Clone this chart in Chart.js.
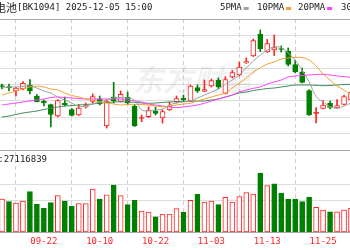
<!DOCTYPE html>
<html><head><meta charset="utf-8">
<script src="https://cdn.jsdelivr.net/npm/chart.js@4.4.1/dist/chart.umd.min.js"></script>
<style>html,body{margin:0;padding:0;background:#fff;overflow:hidden}canvas{display:block}</style>
</head><body>
<canvas id="c" width="350" height="250"></canvas>
<script>
// ---------- data ----------
const dates = ['09-12','09-15','09-16','09-17','09-18','09-19','09-22','09-23','09-24','09-25','09-26','09-29','09-30','10-09','10-10','10-13','10-14','10-15','10-16','10-17','10-20','10-21','10-22','10-23','10-24','10-27','10-28','10-29','10-30','10-31','11-03','11-04','11-05','11-06','11-07','11-10','11-11','11-12','11-13','11-14','11-17','11-18','11-19','11-20','11-21','11-24','11-25','11-26','11-27','11-28','12-01'];
const open  = [1599,1597.5,1584,1590,1602,1569,1554,1543.5,1509,1548,1528.5,1512,1536,1552.5,1560,1479,1566,1552.5,1566,1539,1501.5,1506.9,1524,1503,1527,1551.9,1562.1,1554,1594.5,1583.1,1599,1617,1576.5,1626,1632,1668,1689,1755,1701,1707,1711.5,1704,1663.5,1641,1584.9,1517.1,1532.1,1548,1533,1543.5,1557];
const high  = [1605,1605,1595.1,1611.9,1618.5,1573.5,1557,1545,1558.5,1566,1531.5,1543.5,1548,1575,1569,1557,1610.1,1584,1581,1543.5,1512,1536.9,1536,1527,1551,1569,1572,1602,1602,1617,1620,1623,1626.9,1645.5,1671,1683,1740,1767,1738.5,1752,1719,1713,1677,1653,1588.5,1534.5,1555.5,1554,1558.5,1572,1587];
const low   = [1590,1584,1569,1587,1575,1551,1539,1476,1506,1539,1509,1510.5,1533,1548,1542,1473,1548,1551,1545,1477.5,1491.9,1503.9,1512,1488,1525.5,1548,1551.9,1551.9,1579.5,1582.5,1596,1591.5,1575,1623,1629,1666.5,1687.5,1701.9,1699.5,1690.5,1701,1659,1638,1608,1510.5,1488,1530,1530,1531.5,1542,1554];
const close = [1597.5,1593,1593,1607.1,1584,1551.9,1548,1513.5,1555.5,1542,1510.5,1533,1540.5,1567.5,1545,1551.9,1554,1574.1,1548,1479,1503,1527,1516.5,1522.5,1539,1561.5,1557,1599,1584,1587.9,1615.5,1596,1618.5,1639.5,1656,1672.5,1735.5,1710,1726.5,1713.9,1708.5,1663.5,1641.9,1609.5,1512,1518.9,1542,1534.5,1540.5,1567.5,1581];
// volume in millions
const volume = [21.06,19.34,18.51,19.78,25.72,17.68,15.12,18.70,23.17,19.78,16.59,18.06,18.06,27.44,21.06,23.80,29.99,23.17,17.42,20.23,13.40,12.76,9.76,11.49,11.49,14.87,12.76,20.23,24.06,19.14,19.78,17.42,22.14,19.14,22.53,25.08,24.25,37.65,29.55,30.82,24.89,21.06,21.06,19.34,22.34,15.76,14.04,12.95,12.95,14.04,15.12];
const volUp = [1,0,1,1,0,0,0,0,1,0,0,1,1,1,0,1,0,1,0,0,1,1,0,1,1,1,0,1,0,1,1,0,1,1,1,1,1,0,1,0,0,0,0,0,0,1,1,0,1,1,1];
const ma5  = [1593,1596,1596,1597.5,1599,1593,1584,1578,1566,1557,1548,1537.5,1539,1545,1551.9,1557,1563,1564.5,1563,1557,1527,1524,1527,1530,1542,1548,1551,1554,1563,1572,1581,1590,1604.1,1617,1632,1653,1674,1692,1707,1716.9,1713.9,1698,1677,1647,1611.9,1566.9,1551,1536.9,1532.1,1539,1548];
const ma10 = [1572,1578,1584,1590,1596,1599,1596,1590,1587,1578,1570.5,1566,1560,1557,1551,1548,1545,1542,1543.5,1544.1,1543.5,1542,1539,1536.9,1539,1542,1545,1547.1,1554,1560,1566,1572,1577.1,1593,1608,1623,1641,1653,1665,1671,1680,1683,1685.1,1684.5,1677,1659,1635,1617,1599,1587,1572];
const ma20 = [1542,1545,1548,1551,1554,1557,1560,1564.5,1566,1564.5,1563,1561.5,1560,1560,1560,1560,1560,1560,1557,1554,1551,1545,1542,1539,1536,1533.9,1536,1539,1542,1547.1,1554,1560,1566,1572,1581,1587,1592.1,1596,1605,1611,1617,1626,1629,1630.5,1632,1633.5,1634.1,1632,1629,1626.9,1625.1];
const ma30 = [1506,1509,1513.5,1518,1521,1524,1528.5,1533,1536,1539,1540.5,1542,1543.5,1545,1548,1549.5,1551,1551.9,1551,1550.1,1548,1547.1,1548,1549.5,1551,1551.9,1552.5,1553.1,1554,1554,1557,1560,1566,1572,1578,1581,1585.5,1588.5,1591.5,1593,1596,1599,1602,1602,1602,1601.1,1599.9,1600.5,1602,1603.5,1604.1];
const tickDates = ['09-22','10-10','10-22','11-03','11-13','11-25'];
const titleCn = '电池';
const titleCode = '[BK1094] 2025-12-05 15:00';
const maNames = ['5PMA','10PMA','20PMA','30PMA'];
const volText = 'VOL:27116839';

// ---------- styles ----------
const RED = '#ff2222', GREEN = '#008000';
const MA_COLORS = ['#a0a0a0','#f5a030','#ff40ff','#3c8c5c'];
const MONO = '"DejaVu Sans Mono", monospace';
const CJK = '"Noto Sans CJK SC", sans-serif';

const up = close.map((c,i)=>c>=open[i]);
const bodyFill = up.map((u,i)=> u ? (Math.abs(close[i]-open[i])<2 ? RED : '#ffffff') : GREEN);
const pts = arr => arr.map((v,i)=>({x:i,y:v}));
const tickIdx = tickDates.map(d=>dates.indexOf(d));

const textPlugin = {
  id:'texts',
  beforeDatasetsDraw(chart){
    const ctx = chart.ctx; ctx.save();
    ctx.fillStyle = 'rgba(0,0,0,0.06)';
    ctx.font = 'bold italic 30px ' + CJK;
    ctx.textBaseline = 'middle';
    ctx.fillText('东方财富', 133, 80);
    ctx.restore();
  },
  afterDraw(chart){
    const ctx = chart.ctx; ctx.save();
    ctx.textBaseline = 'middle';
    ctx.fillStyle = '#222';
    ctx.font = '11px ' + CJK;
    ctx.fillText(titleCn, -5, 8);
    ctx.font = '9px ' + MONO;
    ctx.fillText(titleCode, 17, 8);
    // legend
    const xs = [220, 257, 298, 341];
    maNames.forEach((n,i)=>{
      ctx.fillStyle = '#222';
      ctx.fillText(n, xs[i], 8);
      const w = ctx.measureText(n).width;
      ctx.fillStyle = MA_COLORS[i];
      ctx.fillRect(xs[i]+w+2, 7, 5, 3);
    });
    ctx.fillStyle = '#222';
    ctx.fillText(volText, -18, 160);
    ctx.restore();
  }
};

new Chart(document.getElementById('c'), {
  type:'bar',
  data:{datasets:[
    {type:'line', data:pts(ma5),  borderColor:MA_COLORS[0], borderWidth:1, pointRadius:0, tension:0.3, yAxisID:'y', order:0},
    {type:'line', data:pts(ma10), borderColor:MA_COLORS[1], borderWidth:1, pointRadius:0, tension:0.3, yAxisID:'y', order:0},
    {type:'line', data:pts(ma20), borderColor:MA_COLORS[2], borderWidth:1, pointRadius:0, tension:0.3, yAxisID:'y', order:0},
    {type:'line', data:pts(ma30), borderColor:MA_COLORS[3], borderWidth:1, pointRadius:0, tension:0.3, yAxisID:'y', order:0},
    {data:dates.map((d,i)=>({x:i,y:[low[i],high[i]]})), backgroundColor:up.map(u=>u?RED:GREEN), borderWidth:0, barThickness:1, grouped:false, yAxisID:'y', order:3},
    {data:dates.map((d,i)=>({x:i,y:[open[i],close[i]]})), backgroundColor:bodyFill, borderColor:up.map(u=>u?RED:GREEN), borderWidth:1, borderSkipped:false, barThickness:5, minBarLength:1, grouped:false, yAxisID:'y', order:2},
    {data:pts(volume), backgroundColor:volUp.map(u=>u?'#ffffff':GREEN), borderColor:volUp.map(u=>u?RED:GREEN), borderWidth:1, borderSkipped:false, barThickness:5, grouped:false, yAxisID:'yv', order:2}
  ]},
  options:{
    responsive:false, animation:false, devicePixelRatio:1,
    layout:{padding:{top:19,left:0,right:0,bottom:0}},
    plugins:{legend:{display:false}, tooltip:{enabled:false}},
    scales:{
      x:{type:'linear', min:-0.2865, max:49.856, offset:false,
        afterBuildTicks(s){ s.ticks = tickIdx.map(v=>({value:v})); },
        afterFit(s){ s.height = 18; },
        ticks:{autoSkip:false, maxRotation:0, padding:4, color:RED, font:{family:MONO,size:9}, callback:v=>dates[v]},
        grid:{color:'#cfcfcf', drawTicks:false},
        border:{display:true, color:'#a8a8a8', dash:[4,3]}
      },
      y:{min:1161, max:1800, position:'left',
        afterBuildTicks(s){ s.ticks = [0,1,2,3,4,5,6,7,8].map(k=>({value:1407+49.125*k})); },
        afterFit(s){ s.width = 0; },
        ticks:{display:false},
        grid:{drawTicks:false, color:c=> (c.index===0||c.index===8) ? '#a8a8a8' : '#dddddd'},
        border:{display:false}
      },
      yv:{min:0, max:135.93, position:'left',
        afterBuildTicks(s){ s.ticks = [10,20,30].map(v=>({value:v})); },
        afterFit(s){ s.width = 0; },
        ticks:{display:false},
        grid:{drawTicks:false, color:'#dddddd'},
        border:{display:false}
      }
    }
  },
  plugins:[textPlugin]
});
</script>
</body></html>
